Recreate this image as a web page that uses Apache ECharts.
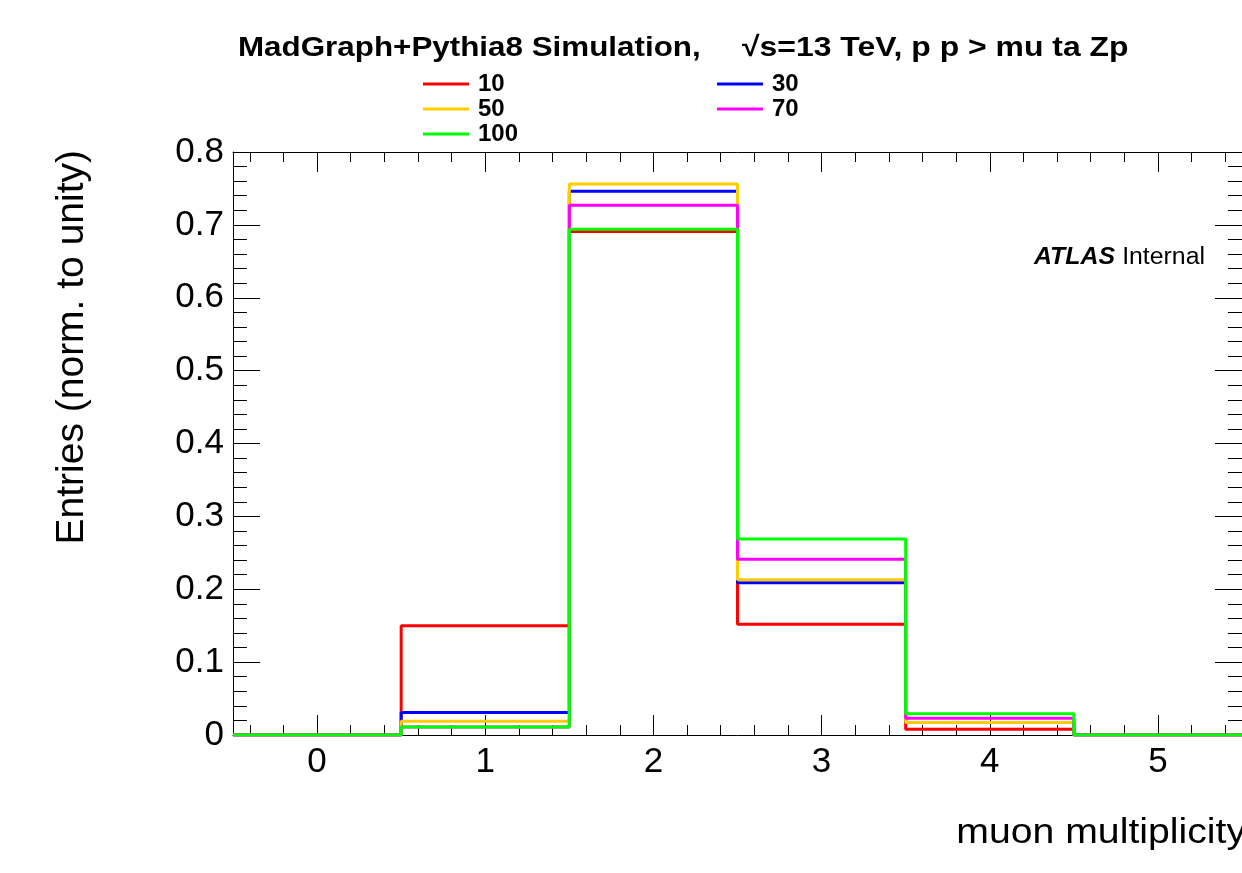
<!DOCTYPE html>
<html>
<head>
<meta charset="utf-8">
<title>muon multiplicity</title>
<script src="https://cdn.jsdelivr.net/npm/echarts@6/dist/echarts.min.js"></script>
<style>
  html, body { margin: 0; padding: 0; background: #fff; }
  #chart { width: 1242px; height: 873px; }
</style>
</head>
<body>
<div id="chart"></div>
<script>
// bin centres of the histogram (muon multiplicity)
const binCenters = [0, 1, 2, 3, 4, 5]
const xTickLabels = [0, 1, 2, 3, 4, 5]

// normalised entries per bin, one array per Zp mass sample
const m10 = [0, 0.150, 0.691, 0.152, 0.008, 0]
const m30 = [0, 0.031, 0.746, 0.209, 0.017, 0]
const m50 = [0, 0.019, 0.756, 0.213, 0.017, 0]
const m70 = [0, 0.011, 0.727, 0.241, 0.023, 0]
const m100 = [0, 0.011, 0.694, 0.269, 0.029, 0]

const seriesNames = ['10', '30', '50', '70', '100']
const seriesValues = [m10, m30, m50, m70, m100]
const colors = ['#ff0000', '#0000ff', '#ffcc00', '#ff00ff', '#00ff00']

const FONT = "'Liberation Sans', Arial, Helvetica, sans-serif"

// histogram outline: one point per bin left edge, plus the last right edge
const toSteps = vals => {
  const pts = binCenters.map((c, i) => [c - 0.5, vals[i]])
  const last = binCenters.length - 1
  pts.push([binCenters[last] + 0.5, vals[last]])
  return pts
}

// minor tick positions every 0.2 (ROOT style)
const minorTicks = []
for (let k = -2; k <= 27; k++) minorTicks.push(Math.round(k * 2) / 10)

const chart = echarts.init(document.getElementById('chart'))

const xBase = {
  type: 'value',
  min: -0.5,
  max: 5.5,
  splitLine: { show: false },
  axisLine: { onZero: false, lineStyle: { color: '#000', width: 1 } },
}

const yBase = {
  type: 'value',
  min: 0,
  max: 0.8,
  interval: 0.1,
  splitLine: { show: false },
  axisLine: { show: true, onZero: false, lineStyle: { color: '#000', width: 1 } },
  axisTick: { show: true, inside: true, length: 27, lineStyle: { color: '#000' } },
  minorTick: { show: true, splitNumber: 5, length: 14, lineStyle: { color: '#000' } },
}

const legendText = { fontFamily: FONT, fontWeight: 'bold', fontSize: 24, lineHeight: 24, color: '#000', padding: [0, 0, 0, 4] }

const option = {
  animation: false,
  backgroundColor: '#fff',
  grid: { left: 233, top: 152, width: 1012, height: 583 },
  legend: [
    {
      data: ['10', '50', '100'],
      orient: 'vertical',
      left: 423,
      top: 72,
      padding: 0,
      icon: 'rect',
      itemWidth: 46,
      itemHeight: 3,
      itemGap: 1,
      selectedMode: false,
      textStyle: legendText,
    },
    {
      data: ['30', '70'],
      orient: 'vertical',
      left: 717,
      top: 72,
      padding: 0,
      icon: 'rect',
      itemWidth: 46,
      itemHeight: 3,
      itemGap: 1,
      selectedMode: false,
      textStyle: legendText,
    },
  ],
  xAxis: [
    {
      ...xBase,
      position: 'bottom',
      axisTick: { show: true, inside: true, length: 20, customValues: xTickLabels, lineStyle: { color: '#000' } },
      axisLabel: { customValues: xTickLabels, fontFamily: FONT, fontSize: 35, color: '#000', margin: 10 },
    },
    {
      ...xBase,
      position: 'bottom',
      axisLine: { show: false, onZero: false },
      axisTick: { show: true, inside: true, length: 10, customValues: minorTicks, lineStyle: { color: '#000' } },
      axisLabel: { show: false },
    },
    {
      ...xBase,
      position: 'top',
      axisTick: { show: true, inside: true, length: 20, customValues: xTickLabels, lineStyle: { color: '#000' } },
      axisLabel: { show: false },
    },
    {
      ...xBase,
      position: 'top',
      axisLine: { show: false, onZero: false },
      axisTick: { show: true, inside: true, length: 10, customValues: minorTicks, lineStyle: { color: '#000' } },
      axisLabel: { show: false },
    },
  ],
  yAxis: [
    {
      ...yBase,
      position: 'left',
      axisLabel: {
        fontFamily: FONT,
        fontSize: 35,
        color: '#000',
        margin: 9,
        formatter: v => (v === 0 ? '0' : v.toFixed(1)),
      },
    },
    {
      ...yBase,
      position: 'right',
      axisLabel: { show: false },
    },
  ],
  graphic: [
    {
      type: 'text',
      x: 238,
      y: 48,
      scaleX: 1.12,
      style: {
        text: 'MadGraph+Pythia8 Simulation,',
        font: `bold 28px ${FONT}`,
        fill: '#000',
        align: 'left',
        verticalAlign: 'middle',
      },
    },
    {
      type: 'text',
      x: 742,
      y: 48,
      scaleX: 1.14,
      style: {
        text: '√s=13 TeV, p p > mu ta Zp',
        font: `bold 28px ${FONT}`,
        fill: '#000',
        align: 'left',
        verticalAlign: 'middle',
      },
    },
    {
      type: 'text',
      x: 1034,
      y: 258,
      scaleX: 1.08,
      style: {
        text: '{a|ATLAS}  {b|Internal}',
        rich: {
          a: { fontFamily: FONT, fontStyle: 'italic', fontWeight: 'bold', fontSize: 23, fill: '#000' },
          b: { fontFamily: FONT, fontSize: 23, fill: '#000' },
        },
        align: 'left',
        verticalAlign: 'middle',
      },
    },
    {
      type: 'text',
      x: 1246,
      y: 833,
      scaleX: 1.12,
      style: {
        text: 'muon multiplicity',
        font: `35px ${FONT}`,
        fill: '#000',
        align: 'right',
        verticalAlign: 'middle',
      },
    },
    {
      type: 'text',
      x: 72,
      y: 150,
      rotation: Math.PI / 2,
      style: {
        text: 'Entries (norm. to unity)',
        font: `39px ${FONT}`,
        fill: '#000',
        align: 'right',
        verticalAlign: 'middle',
      },
    },
  ],
  series: seriesNames.map((name, i) => ({
    name,
    type: 'line',
    step: 'end',
    xAxisIndex: 0,
    yAxisIndex: 0,
    symbol: 'none',
    color: colors[i],
    lineStyle: { color: colors[i], width: 3 },
    data: toSteps(seriesValues[i]),
  })),
}

chart.setOption(option)
</script>
</body>
</html>
